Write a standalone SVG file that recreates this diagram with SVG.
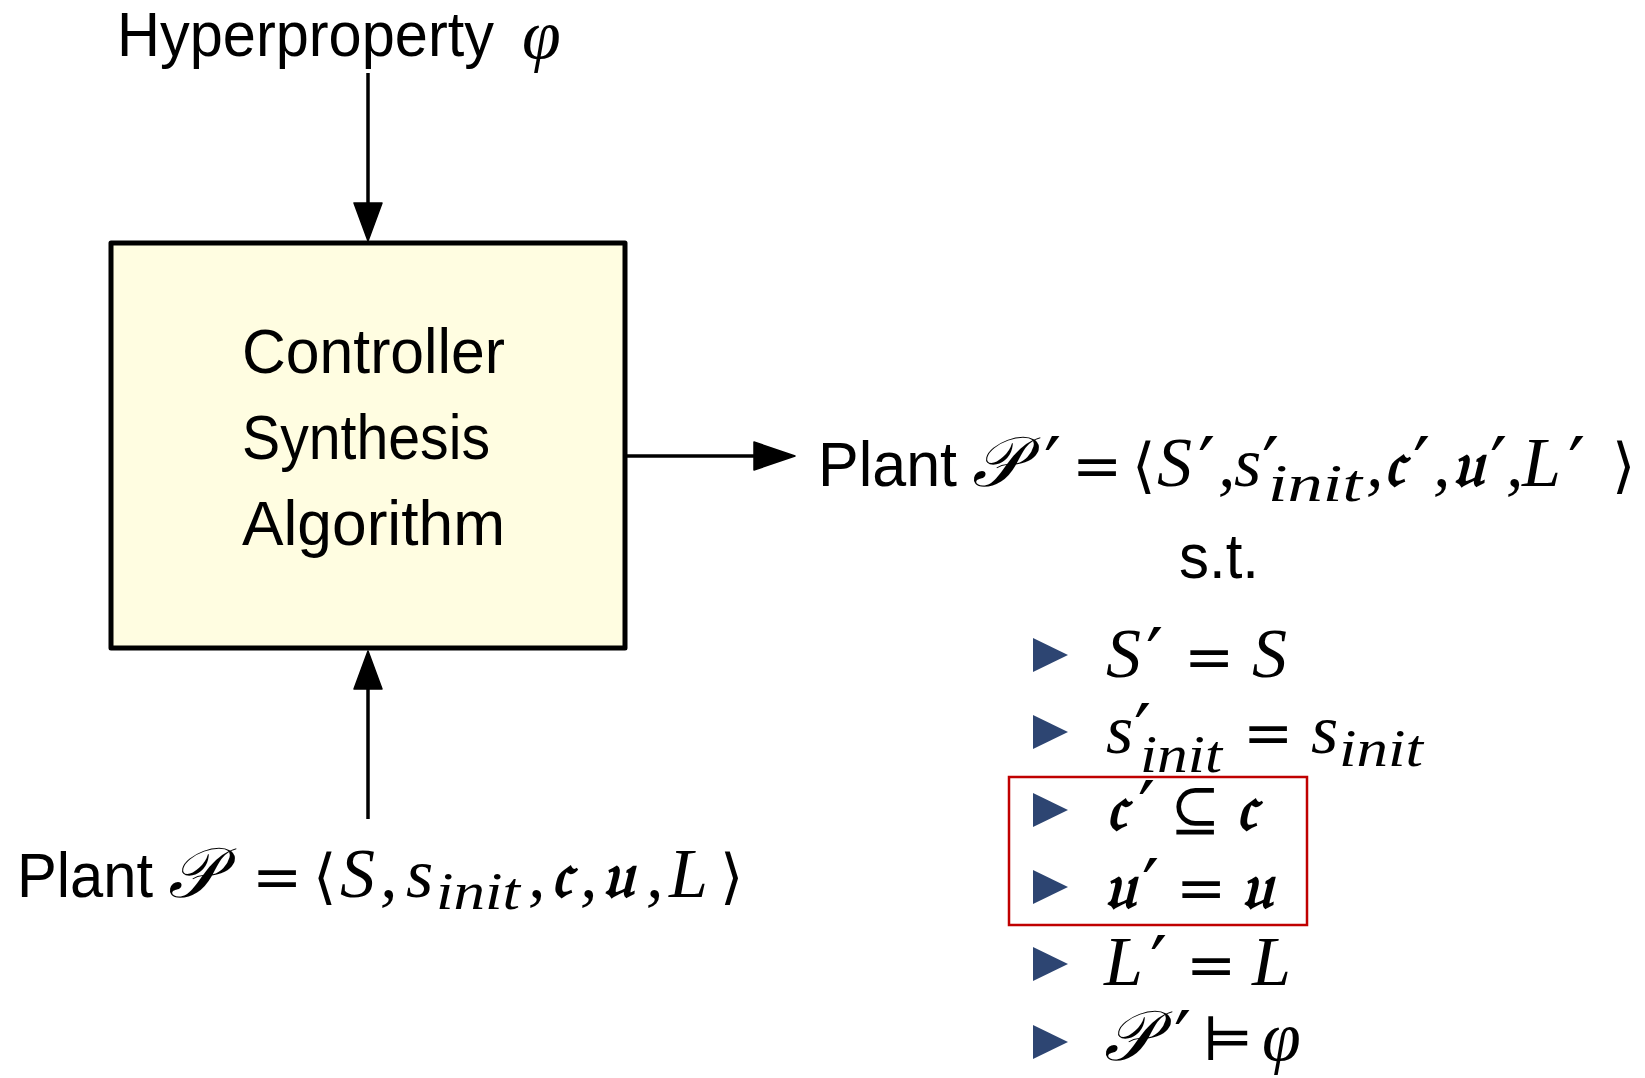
<svg xmlns="http://www.w3.org/2000/svg" width="1645" height="1078" viewBox="0 0 1645 1078">
  <style>
    .sans{font-family:"Liberation Sans",Arial,sans-serif;font-size:63px;fill:#000}
    .mi{font-family:"Liberation Serif","DejaVu Serif",serif;font-style:italic;font-size:70px;fill:#000}
    .mr{font-family:"DejaVu Serif","Liberation Serif",serif;font-style:normal;font-size:60px;fill:#000}
    .sub{font-family:"Liberation Serif","DejaVu Serif",serif;font-style:italic;font-size:52px;fill:#000}
    .frak{font-family:"DejaVu Serif","Noto Sans",serif;font-size:64px;font-weight:bold;fill:#000}
    .pr{font-family:"DejaVu Sans",sans-serif;font-style:normal;font-size:76px;fill:#000}
    .edge{stroke:#000;stroke-width:3.5;fill:none}
    .head{fill:#000;stroke:#000;stroke-width:1.5;stroke-linejoin:round}
    .bullet{fill:#2D4572}
  </style>

  <!-- input: hyperproperty -->
  <g id="hyperproperty">
    <text class="sans" x="117" y="56" textLength="377" lengthAdjust="spacingAndGlyphs">Hyperproperty</text>
    <text class="mi" x="522" y="58">φ</text>
  </g>

  <!-- synthesis box -->
  <g id="synthesis">
    <rect x="111" y="243" width="514" height="405" fill="#FFFDE1" stroke="#000" stroke-width="5" stroke-linejoin="round"/>
    <text class="sans" x="242" y="373" textLength="263" lengthAdjust="spacingAndGlyphs">Controller</text>
    <text class="sans" x="242" y="459" textLength="248" lengthAdjust="spacingAndGlyphs">Synthesis</text>
    <text class="sans" x="242" y="545" textLength="263" lengthAdjust="spacingAndGlyphs">Algorithm</text>
  </g>

  <!-- input: original plant -->
  <g id="plant-in">
    <text class="sans" x="17" y="897" textLength="136" lengthAdjust="spacingAndGlyphs">Plant</text>
    <text class="mi" y="897">
      <tspan x="168">𝒫</tspan>
      <tspan class="mr" x="252">=</tspan>
      <tspan class="mr" x="313">⟨</tspan>
      <tspan x="340">S</tspan><tspan x="380">,</tspan>
      <tspan x="406">s</tspan>
    </text>
    <text class="sub" x="436" y="909" textLength="84" lengthAdjust="spacingAndGlyphs">init</text>
    <text class="mi" y="897">
      <tspan x="528">,</tspan>
      <tspan class="frak" x="551">𝔠</tspan><tspan x="580">,</tspan>
      <tspan class="frak" x="602">𝔲</tspan><tspan x="646">,</tspan>
      <tspan x="669">L</tspan>
      <tspan class="mr" x="720">⟩</tspan>
    </text>
  </g>

  <!-- output: modified plant and its conditions -->
  <g id="plant-out">
    <text class="sans" x="818" y="486" textLength="139" lengthAdjust="spacingAndGlyphs">Plant</text>
    <text class="mi" x="972" y="486">𝒫</text>
    <text class="mi" y="486">
      <tspan class="pr" x="1044" y="492">′</tspan>
      <tspan class="mr" x="1072" y="486">=</tspan>
      <tspan class="mr" x="1132">⟨</tspan>
      <tspan x="1157">S</tspan><tspan class="pr" x="1198" y="492">′</tspan><tspan x="1218" y="486">,</tspan>
      <tspan x="1234">s</tspan><tspan class="pr" x="1262" y="492">′</tspan>
    </text>
    <text class="sub" x="1268" y="501" textLength="94" lengthAdjust="spacingAndGlyphs">init</text>
    <text class="mi" y="486">
      <tspan x="1366">,</tspan>
      <tspan class="frak" x="1384">𝔠</tspan><tspan class="pr" x="1413" y="492">′</tspan><tspan x="1433" y="486">,</tspan>
      <tspan class="frak" x="1452">𝔲</tspan><tspan class="pr" x="1490" y="492">′</tspan><tspan x="1506" y="486">,</tspan>
      <tspan x="1522">L</tspan><tspan class="pr" x="1568" y="492">′</tspan>
      <tspan class="mr" x="1612" y="486">⟩</tspan>
    </text>
    <text class="sans" x="1179" y="578" textLength="80" lengthAdjust="spacingAndGlyphs">s.t.</text>
  </g>

  <!-- condition list -->
  <g id="conditions">
    <polygon class="bullet" points="1033,638 1033,672 1068,655"/>
    <polygon class="bullet" points="1033,715 1033,749 1068,732"/>
    <polygon class="bullet" points="1033,793 1033,827 1068,810"/>
    <polygon class="bullet" points="1033,870 1033,904 1068,887"/>
    <polygon class="bullet" points="1033,947 1033,981 1068,964"/>
    <polygon class="bullet" points="1033,1025 1033,1059 1068,1042"/>

    <text class="mi" y="677"><tspan x="1106">S</tspan><tspan class="pr" x="1146" y="683">′</tspan><tspan class="mr" x="1184" y="677">=</tspan><tspan x="1252">S</tspan></text>
    <text class="mi" y="753"><tspan x="1106">s</tspan><tspan class="pr" x="1134" y="759">′</tspan><tspan class="mr" x="1243" y="753">=</tspan><tspan x="1311">s</tspan></text>
    <text class="sub" x="1140" y="772" textLength="82" lengthAdjust="spacingAndGlyphs">init</text>
    <text class="sub" x="1339" y="766" textLength="84" lengthAdjust="spacingAndGlyphs">init</text>
    <text class="mi" y="830"><tspan class="frak" x="1106">𝔠</tspan><tspan class="pr" x="1138" y="836">′</tspan><tspan class="mr" x="1170" y="830">⊆</tspan><tspan class="frak" x="1236">𝔠</tspan></text>
    <text class="mi" y="908"><tspan class="frak" x="1104">𝔲</tspan><tspan class="pr" x="1142" y="914">′</tspan><tspan class="mr" x="1176" y="908">=</tspan><tspan class="frak" x="1241">𝔲</tspan></text>
    <text class="mi" y="985"><tspan x="1104">L</tspan><tspan class="pr" x="1150" y="991">′</tspan><tspan class="mr" x="1186" y="985">=</tspan><tspan x="1252">L</tspan></text>
    <text class="mi" x="1104" y="1060">𝒫</text>
    <text class="mi" y="1060"><tspan class="pr" x="1174" y="1066">′</tspan><tspan class="mr" x="1202" y="1060">⊨</tspan><tspan x="1262">φ</tspan></text>

    <rect x="1009" y="777" width="298" height="148" fill="none" stroke="#C00000" stroke-width="2.5"/>
  </g>

  <!-- connectors -->
  <g id="connectors">
    <line class="edge" x1="368" y1="73" x2="368" y2="206"/>
    <polygon class="head" points="354,203 382,203 368,241"/>
    <line class="edge" x1="625" y1="456" x2="756" y2="456"/>
    <polygon class="head" points="754,442 754,470 795,456"/>
    <line class="edge" x1="368" y1="819" x2="368" y2="686"/>
    <polygon class="head" points="354,689 382,689 368,651"/>
  </g>
</svg>
